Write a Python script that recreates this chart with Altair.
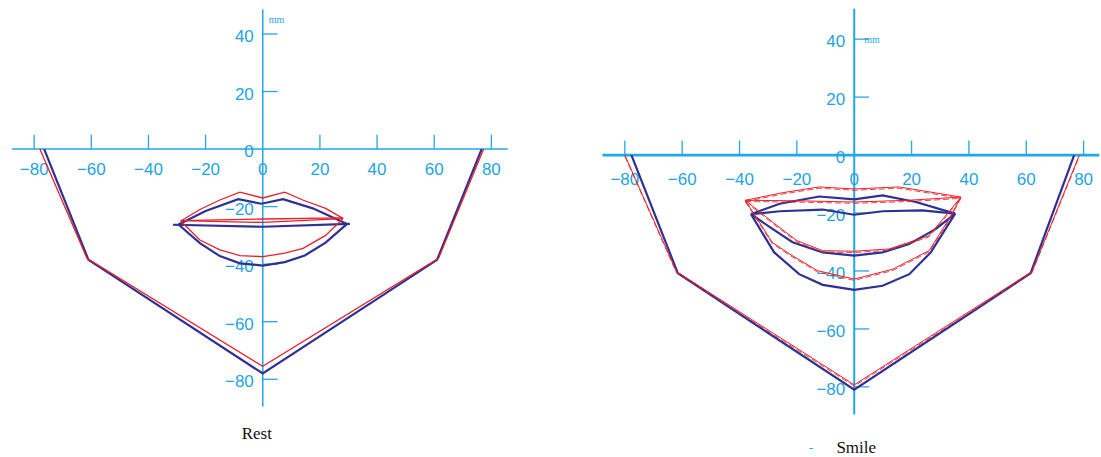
import altair as alt
import pandas as pd

AXIS_BLUE = "#22a7e8"
LABEL_BLUE = "#1fa4e2"
RED = "#e8202a"
NAVY = "#2e3192"
NUM_FONT = "Liberation Sans, Arial, sans-serif"
SERIF = "Liberation Serif"

# ---- axis ticks and labels (mm) ----
x_ticks = [-80, -60, -40, -20, 20, 40, 60, 80]
y_ticks = [40, 20, -20, -40, -60, -80]
x_label_values = [-80, -60, -40, -20, 0, 20, 40, 60, 80]
x_label_text = ["\u221280", "\u221260", "\u221240", "\u221220", "0", "20", "40", "60", "80"]
y_label_values = [40, 20, 0, -20, -40, -60, -80]
y_label_text = ["40", "20", "0", "\u221220", "\u221240", "\u221260", "\u221280"]

# ---- Rest: facial outline ----
rest_jaw_red_x = [-78, -61.5, 0, 61.5, 77.3]
rest_jaw_red_y = [0, -38, -75.5, -38, 0]
rest_jaw_blue_x = [-76.5, -61, 0, 61, 76.6]
rest_jaw_blue_y = [0, -38.5, -78, -38.5, 0]

# ---- Rest: lips ----
rest_red_upper_x = [-28.7, -22, -15, -8, 0, 7.7, 14, 22, 28.1]
rest_red_upper_y = [-25, -21, -17.7, -15, -17, -15, -17.7, -20.6, -24.1]
rest_red_mid1_x = [-28.7, 0, 28.1]
rest_red_mid1_y = [-24.9, -24.3, -23.9]
rest_red_mid2_x = [-28.7, 0, 28.1]
rest_red_mid2_y = [-24.9, -25.5, -24.2]
rest_red_lower_x = [-28.7, -22, -15, -8, 0, 7.7, 14.1, 22, 28.1]
rest_red_lower_y = [-25, -31.6, -35, -37, -37.4, -36.2, -34.5, -30, -24.1]

rest_blue_upper_x = [-29.5, -20, -8.6, -0.5, 7.1, 17.5, 29.5]
rest_blue_upper_y = [-26.2, -21.5, -17.4, -19, -17.4, -20.6, -26]
rest_blue_mid_x = [-31.4, 0, 30.5]
rest_blue_mid_y = [-26.3, -27, -26]
rest_blue_lower_x = [-29.5, -22, -15, -8, 0, 7.7, 14.7, 22, 29.5]
rest_blue_lower_y = [-26.2, -32.7, -37.2, -39.7, -40.5, -39.3, -37, -32.5, -26]

# ---- Smile: facial outline ----
smile_jaw_red_x = [-80, -62, 0, 62, 78.5]
smile_jaw_red_y = [0, -40.2, -79.3, -40.2, 0]
smile_jaw_blue_x = [-77.7, -61.5, 0, 61.5, 76.7]
smile_jaw_blue_y = [0, -40.8, -81, -40.8, 0]

# ---- Smile: lips ----
smile_red_upper_x = [-38, -25, -12.2, 0, 15.7, 37.2]
smile_red_upper_y = [-15.6, -13, -11, -11.7, -11, -14.5]
smile_red_inner_x = [-38, -19, 0, 19, 37.2]
smile_red_inner_y = [-15.6, -15.8, -16.2, -15.6, -14.5]
smile_red_lower_in_x = [-38, -28, -20, -11, 0, 12.2, 26.1, 32, 37.2]
smile_red_lower_in_y = [-15.6, -23.5, -29.5, -33, -33.2, -32.4, -27.8, -20.8, -14.5]
smile_red_lower_out_x = [-38, -28.6, -22.6, -12.8, 0, 13.4, 26.1, 33.1, 37.2]
smile_red_lower_out_y = [-15.6, -30.1, -34.1, -39.9, -42.8, -39.4, -33, -22, -14.5]

smile_blue_upper_x = [-36, -26, -12.2, 0, 9.9, 21.5, 35.2]
smile_blue_upper_y = [-20.4, -16.8, -14.3, -15.3, -13.9, -16.2, -20.2]
smile_blue_mid_x = [-36, -26, -11, 0, 9.9, 23.7, 35.2]
smile_blue_mid_y = [-20.4, -19.4, -18.8, -20.6, -19.4, -19.1, -20.2]
smile_blue_lower_in_x = [-36, -28.5, -21.5, -11, 0, 9.9, 19.2, 28.5, 35.2]
smile_blue_lower_in_y = [-20.4, -25.5, -30.1, -33.6, -34.7, -33.6, -30.7, -25.5, -20.2]
smile_blue_lower_out_x = [-36, -27.9, -19.2, -11, 0, 9.9, 19.2, 26.7, 35.2]
smile_blue_lower_out_y = [-20.4, -33.6, -41.1, -44.8, -46.5, -45.1, -41.1, -33.6, -20.2]


def paths(*items):
    rows = []
    for name, xs, ys in items:
        for i, (x, y) in enumerate(zip(xs, ys)):
            rows.append({"path": name, "i": i, "x": x, "y": y})
    return pd.DataFrame(rows)


def panel(red, blue, xdom, ydom, w, h, xaxis, yaxis, xaxis_width, yaxis_width,
          xlabel_dy, title, title_xy, mm_xy, sketchy=False, extra=None):
    X = alt.X("x:Q", scale=alt.Scale(domain=xdom, nice=False, zero=False), axis=None)
    Y = alt.Y("y:Q", scale=alt.Scale(domain=ydom, nice=False, zero=False), axis=None)

    xline = alt.Chart(pd.DataFrame({"x": [xaxis[0]], "x2": [xaxis[1]], "y": [0]})).mark_rule(
        color=AXIS_BLUE, strokeWidth=xaxis_width).encode(X, x2="x2:Q", y=Y)
    yline = alt.Chart(pd.DataFrame({"y": [yaxis[0]], "y2": [yaxis[1]], "x": [0]})).mark_rule(
        color=AXIS_BLUE, strokeWidth=yaxis_width).encode(X, Y, y2="y2:Q")

    xt = pd.DataFrame({"x": x_ticks, "y": [0] * len(x_ticks), "y2": [5] * len(x_ticks)})
    xtick = alt.Chart(xt).mark_rule(color=AXIS_BLUE, strokeWidth=1.3).encode(X, Y, y2="y2:Q")
    yt = pd.DataFrame({"y": y_ticks, "x": [0] * len(y_ticks), "x2": [5.2] * len(y_ticks)})
    ytick = alt.Chart(yt).mark_rule(color=AXIS_BLUE, strokeWidth=1.3).encode(X, Y, x2="x2:Q")

    xl = pd.DataFrame({"x": x_label_values, "y": [0] * len(x_label_values), "t": x_label_text})
    xlab = alt.Chart(xl).mark_text(font=NUM_FONT, fontSize=17, color=LABEL_BLUE,
                                   baseline="middle", align="center", dy=xlabel_dy).encode(X, Y, text="t:N")
    yl = pd.DataFrame({"y": y_label_values, "x": [0] * len(y_label_values), "t": y_label_text})
    ylab = alt.Chart(yl).mark_text(font=NUM_FONT, fontSize=17, color=LABEL_BLUE,
                                   baseline="middle", align="right", dx=-9, dy=3).encode(X, Y, text="t:N")

    blue_lines = alt.Chart(paths(*blue)).mark_line(color=NAVY, strokeWidth=2.2, strokeJoin="miter").encode(
        X, Y, detail="path:N", order="i:Q")
    layers = [xline, yline, xtick, ytick, xlab, ylab, blue_lines]
    if sketchy:
        layers.append(alt.Chart(paths(*red)).mark_line(color=RED, strokeWidth=1.0).encode(
            X, Y, detail="path:N", order="i:Q"))
        layers.append(alt.Chart(paths(*red)).mark_line(color=RED, strokeWidth=1.0, strokeDash=[6, 3],
                                                       yOffset=1.3, opacity=0.85).encode(
            X, Y, detail="path:N", order="i:Q"))
    else:
        layers.append(alt.Chart(paths(*red)).mark_line(color=RED, strokeWidth=1.3).encode(
            X, Y, detail="path:N", order="i:Q"))

    mm = alt.Chart(pd.DataFrame({"t": ["mm"]})).mark_text(
        font=SERIF, fontSize=10, color=LABEL_BLUE, align="left", baseline="middle").encode(
        x=alt.value(mm_xy[0]), y=alt.value(mm_xy[1]), text="t:N")
    ttl = alt.Chart(pd.DataFrame({"t": [title]})).mark_text(
        font=SERIF, fontSize=17, color="#111111", align="center", baseline="middle").encode(
        x=alt.value(title_xy[0]), y=alt.value(title_xy[1]), text="t:N")
    layers += [mm, ttl]
    if extra is not None:
        layers.append(alt.Chart(pd.DataFrame({"t": [extra[0]]})).mark_text(
            font=SERIF, fontSize=13, color=LABEL_BLUE, align="center", baseline="middle").encode(
            x=alt.value(extra[1]), y=alt.value(extra[2]), text="t:N"))
    return alt.layer(*layers).properties(width=w, height=h)


# Rest panel: 2.86 px/mm horizontally, 2.88 px/mm vertically, origin at (263, 149)
rest = panel(
    red=[("jaw", rest_jaw_red_x, rest_jaw_red_y),
         ("upper", rest_red_upper_x, rest_red_upper_y),
         ("mid1", rest_red_mid1_x, rest_red_mid1_y),
         ("mid2", rest_red_mid2_x, rest_red_mid2_y),
         ("lower", rest_red_lower_x, rest_red_lower_y)],
    blue=[("jaw", rest_jaw_blue_x, rest_jaw_blue_y),
          ("upper", rest_blue_upper_x, rest_blue_upper_y),
          ("mid", rest_blue_mid_x, rest_blue_mid_y),
          ("lower", rest_blue_lower_x, rest_blue_lower_y)],
    xdom=[-263 / 2.86, (540 - 263) / 2.86], ydom=[(149 - 456) / 2.88, 149 / 2.88],
    w=540, h=456, xaxis=(-87.8, 85.7), yaxis=(-89.5, 48.5),
    xaxis_width=1.5, yaxis_width=1.5, xlabel_dy=21,
    title="Rest", title_xy=(257, 434), mm_xy=(269, 20))

# Smile panel: origin at (315, 155) inside its own view
smile = panel(
    red=[("jaw", smile_jaw_red_x, smile_jaw_red_y),
         ("upper", smile_red_upper_x, smile_red_upper_y),
         ("inner", smile_red_inner_x, smile_red_inner_y),
         ("lower_in", smile_red_lower_in_x, smile_red_lower_in_y),
         ("lower_out", smile_red_lower_out_x, smile_red_lower_out_y)],
    blue=[("jaw", smile_jaw_blue_x, smile_jaw_blue_y),
          ("upper", smile_blue_upper_x, smile_blue_upper_y),
          ("mid", smile_blue_mid_x, smile_blue_mid_y),
          ("lower_in", smile_blue_lower_in_x, smile_blue_lower_in_y),
          ("lower_out", smile_blue_lower_out_x, smile_blue_lower_out_y)],
    xdom=[-315 / 2.87, (560 - 315) / 2.87], ydom=[(155 - 456) / 2.9, 155 / 2.9],
    w=560, h=456, xaxis=(-87.8, 85.5), yaxis=(-89.5, 50.5),
    xaxis_width=2.8, yaxis_width=2, xlabel_dy=25,
    title="Smile", title_xy=(317, 448), mm_xy=(325, 40), sketchy=True,
    extra=("-", 272, 448))

chart = alt.hconcat(rest, smile, spacing=0).properties(padding=0).configure_view(stroke=None)
chart.save("out.html", embed_options={"renderer": "svg", "actions": False})
